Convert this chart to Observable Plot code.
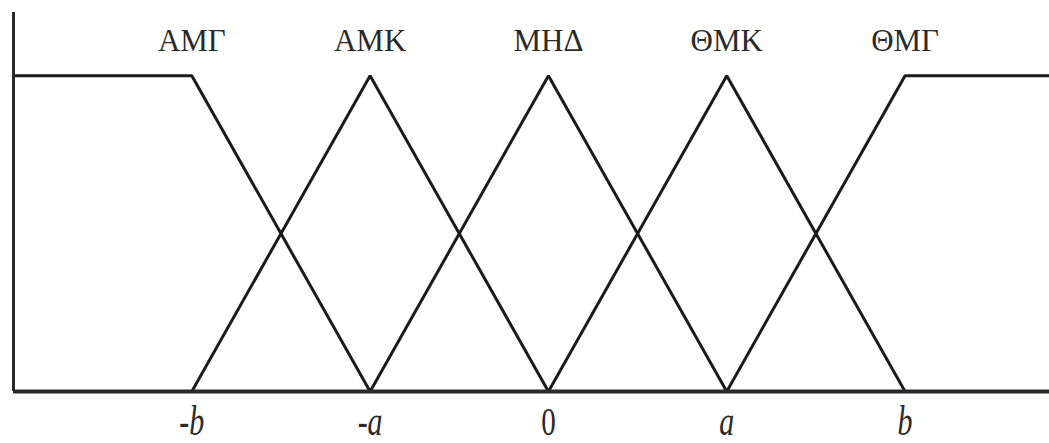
<!DOCTYPE html>
<html>
<head>
<meta charset="utf-8">
<script src="https://cdn.jsdelivr.net/npm/d3@7"></script>
<script src="https://cdn.jsdelivr.net/npm/@observablehq/plot@0.6"></script>
<style>
  html, body { margin: 0; padding: 0; background: #fff; }
</style>
</head>
<body>
<div id="chart"></div>
<script>
// Fuzzy set names (Greek) and their centres on the x axis
const categories = ["ΑΜΓ", "ΑΜΚ", "ΜΗΔ", "ΘΜΚ", "ΘΜΓ"];
const centers = [-2, -1, 0, 1, 2];
const tickLabels = ["-b", "-a", "0", "a", "b"];

// Membership function vertices (x, μ)
const amgX = [-3, -2, -1];      const amgY = [1, 1, 0];
const amkX = [-2, -1, 0];       const amkY = [0, 1, 0];
const mhdX = [-1, 0, 1];        const mhdY = [0, 1, 0];
const thmkX = [0, 1, 2];        const thmkY = [0, 1, 0];
const thmgX = [1, 2, 2.81];     const thmgY = [0, 1, 1];

const seriesX = [amgX, amkX, mhdX, thmkX, thmgX];
const seriesY = [amgY, amkY, mhdY, thmkY, thmgY];
const lineData = seriesX.flatMap((xs, i) => xs.map((x, j) => ({ set: categories[i], x, y: seriesY[i][j] })));
const labelData = categories.map((c, i) => ({ name: c, x: centers[i] }));
const tickData = tickLabels.map((t, i) => ({ t, x: centers[i] }));

const serif = "'Liberation Serif', 'Times New Roman', 'DejaVu Serif', serif";

const chart = Plot.plot({
  width: 1049,
  height: 443,
  marginLeft: 13,
  marginRight: 0,
  marginTop: 12,
  marginBottom: 52,
  x: { domain: [-3, 2.81], axis: null },
  y: { domain: [0, 1.2], axis: null },
  style: { background: "#fff", fontFamily: serif },
  marks: [
    Plot.line(lineData, { x: "x", y: "y", z: "set", stroke: "#1b1b1b", strokeWidth: 3, strokeLinejoin: "miter" }),
    Plot.ruleY([0], { stroke: "#2a2a2a", strokeWidth: 4 }),
    Plot.ruleX([-3], { y1: 0, y2: 1.2, stroke: "#2a2a2a", strokeWidth: 3 }),
    Plot.text(labelData, { x: "x", y: 1.2, text: "name", dy: 29, fontSize: 31, fill: "#2a2a2a", fontFamily: serif }),
    Plot.text(tickData.filter(d => d.t !== "0"), { x: "x", y: 0, text: "t", dy: 30, fontSize: 30, fontStyle: "italic", fill: "#2a2a2a", fontFamily: serif, className: "stretch" }),
    Plot.text(tickData.filter(d => d.t === "0"), { x: "x", y: 0, text: "t", dy: 30, fontSize: 29, fill: "#2a2a2a", fontFamily: serif, className: "stretch" })
  ]
});
// Stretch the tick labels vertically about their anchor, as in the scanned original
chart.querySelectorAll(".stretch text").forEach(t => {
  const tr = t.getAttribute("transform") || "";
  t.setAttribute("transform", tr + " scale(1,1.4)");
});
document.getElementById("chart").appendChild(chart);
</script>
</body>
</html>
